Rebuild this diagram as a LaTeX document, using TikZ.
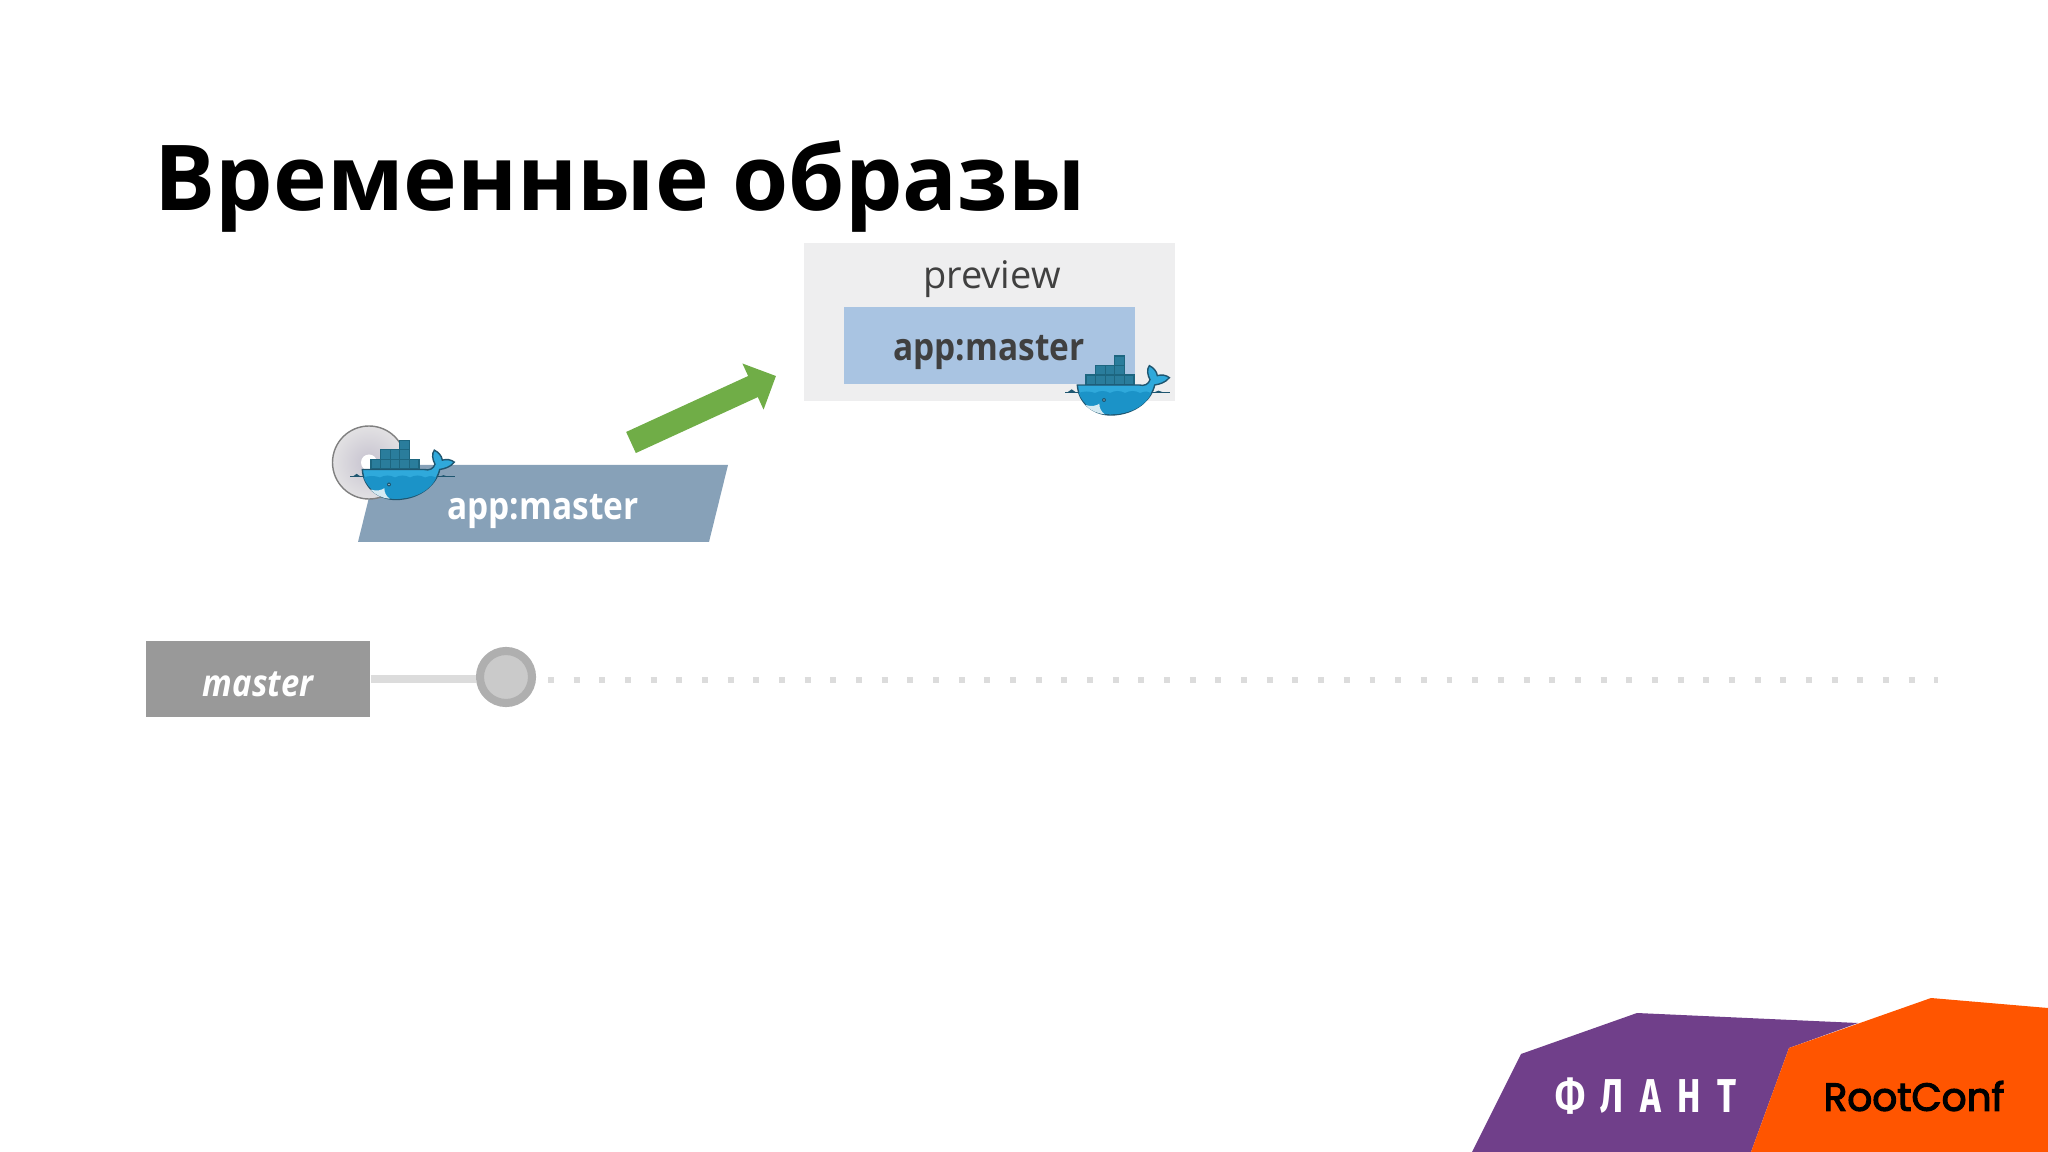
\documentclass[tikz,border=0pt]{standalone}
\usepackage{fontspec}
\setmainfont{Open Sans}
\newfontfamily\labelfont[FakeStretch=0.88]{Open Sans}
\newfontfamily\rootfont[FakeBold=3]{Poppins}
\newfontfamily\flantfont[FakeStretch=0.74,LetterSpace=35]{Fira Sans}
\usetikzlibrary{arrows.meta}
\definecolor{boxgray}{HTML}{EEEEEF}
\definecolor{boxblue}{HTML}{A9C4E2}
\definecolor{buildblue}{HTML}{87A1B8}
\definecolor{inkgray}{HTML}{404040}
\definecolor{tagray}{HTML}{999999}
\definecolor{linegray}{HTML}{DCDCDC}
\definecolor{ringgray}{HTML}{AFAFAF}
\definecolor{dotgray}{HTML}{CACACA}
\definecolor{arrowgreen}{HTML}{70AD47}
\definecolor{flantviolet}{HTML}{703F8A}
\definecolor{rootorange}{HTML}{FF5500}
\definecolor{crate}{HTML}{2A7D9C}
\definecolor{crateline}{HTML}{1D6680}
\definecolor{whaleblue}{HTML}{2FA9DB}
\definecolor{whaledark}{HTML}{1B93C8}
\definecolor{whaleline}{HTML}{1F5670}
\definecolor{whalemouth}{HTML}{D5EAF2}
\definecolor{discgray}{HTML}{E2E1E3}
\definecolor{discmid}{HTML}{C6C2CF}
\tikzset{
  whale/.pic={
    \begin{scope}[xscale=1/3,yscale=1/3]
      \draw [whaleline,line width=0.3pt] (15,142) -- (330,142);
      \fill [whaleline] (22,142) -- (35,133) -- (48,142) -- cycle;
      \fill [whaleline] (283,142) -- (295,137) -- (310,142) -- cycle;
      \foreach \col in {0,...,4}
        \draw [fill=crate,draw=crateline,line width=0.3pt] (78+28.8*\col,90) rectangle +(28.8,28);
      \foreach \col in {1,...,3}
        \draw [fill=crate,draw=crateline,line width=0.3pt] (78+28.8*\col,61) rectangle +(28.8,29);
      \draw [fill=crate,draw=crateline,line width=0.3pt] (164.4,33) rectangle +(28.8,28);
      \draw [fill=whaleblue,draw=whaleline,line width=0.4pt] (52,120) -- (238,120)
        .. controls (252,124) and (266,118) .. (270,104)
        .. controls (262,90) and (260,72) .. (268,62)
        .. controls (280,68) and (290,78) .. (292,92)
        .. controls (304,88) and (318,90) .. (328,98)
        .. controls (318,112) and (298,118) .. (284,120)
        .. controls (276,160) and (230,210) .. (150,210)
        .. controls (95,208) and (55,170) .. (52,120) -- cycle;
      \fill [whaledark] (56,144) .. controls (70,138) and (90,138) .. (105,144)
        .. controls (120,136) and (135,136) .. (150,144)
        .. controls (165,136) and (180,136) .. (195,144)
        .. controls (210,136) and (225,136) .. (240,144)
        .. controls (255,138) and (265,138) .. (274,144)
        .. controls (258,180) and (215,208) .. (150,208)
        .. controls (105,206) and (70,180) .. (56,144) -- cycle;
      \fill [whalemouth] (76,180) .. controls (95,186) and (110,182) .. (118,176)
        .. controls (118,190) and (124,200) .. (134,208)
        .. controls (112,206) and (90,196) .. (76,180) -- cycle;
      \fill [whaleline] (132,165) circle (6);
      \fill [white] (132,165) circle (2);
    \end{scope}
  }
}
\begin{document}
\begin{tikzpicture}[x=0.01cm,y=-0.01cm,
    title/.style={anchor=base west,inner sep=0pt,font=\bfseries\fontsize{25.85pt}{30pt}\selectfont},
    tagtext/.style={inner sep=0pt,font=\labelfont\bfseries\fontsize{10.8pt}{13pt}\selectfont},
    previewbox/.style={fill=boxgray,minimum width=3.71cm,minimum height=1.58cm,inner sep=0pt},
    imagebox/.style={fill=boxblue,minimum width=2.90cm,minimum height=0.77cm,inner sep=0pt},
    branchbox/.style={fill=tagray,minimum width=2.24cm,minimum height=0.76cm,inner sep=0pt},
    commit/.style={circle,fill=dotgray,draw=ringgray,line width=2.3pt,minimum size=0.52cm,inner sep=0pt}]
    \useasboundingbox (0,0) rectangle (2048,1152);
    \node (title) at (154,211) [title] {Временные образы};

    \node (preview) at (989.5,322) [previewbox] {};
    \node (previewtext) at (992,279) [inkgray,inner sep=0pt,font=\fontsize{10.8pt}{13pt}\selectfont] {preview};
    \node (image) at (989.5,345.5) [imagebox] {};
    \node (imagetext) at (989,352) [tagtext,text=inkgray] {app:master};
    \pic at (1060,345) {whale};

    \fill [buildblue] (377,465) -- (728,465) -- (709,542) -- (358,542) -- cycle;
    \node (buildtext) at (543,511) [tagtext,text=white] {app:master};
    \shade [inner color=discmid,outer color=discgray] (369,462.5) circle (36.5);
    \draw [draw=gray,line width=0.4pt] (369,462.5) circle (36.5);
    \fill [white] (369,462.5) circle (8);
    \pic at (345,429.5) {whale};

    \coordinate (arrowtail) at (631,442.5);
    \coordinate (arrowtip) at (776,376);
    \draw [arrowgreen,line width=6.6pt,-{Triangle[length=7.2pt,width=14pt]}] (arrowtail) -- (arrowtip);

    \coordinate (dotstart) at (548,680);
    \coordinate (dotend) at (1938,680);
    \node (master) at (258,679) [branchbox] {};
    \node (mastertext) at (258,684) [text=white,inner sep=0pt,font=\labelfont\bfseries\itshape\fontsize{10.6pt}{12pt}\selectfont] {master};
    \node (commit) at (506,677) [commit] {};
    \draw [linegray,line width=2pt] (master.east) -- (master.east -| commit.west);
    \draw [linegray,line width=1.7pt,dash pattern=on 1.7pt off 5.6pt] (dotstart) -- (dotend);

    \fill [flantviolet] (1472,1152) -- (1521,1054) -- (1637,1013) -- (1858,1023) -- (1789,1048) -- (1751,1152) -- cycle;
    \fill [rootorange] (1751,1152) -- (1789,1048) -- (1931,998) -- (2048,1008) -- (2048,1152) -- cycle;
    \node (flant) at (1646,1096) [text=white,inner sep=0pt,font=\flantfont\bfseries\fontsize{13.5pt}{16pt}\selectfont] {ФЛАНТ};
    \node (rootconf) at (1914,1096) [inner sep=0pt,font=\rootfont\fontsize{11.1pt}{13pt}\selectfont] {RootConf};
\end{tikzpicture}
\end{document}
